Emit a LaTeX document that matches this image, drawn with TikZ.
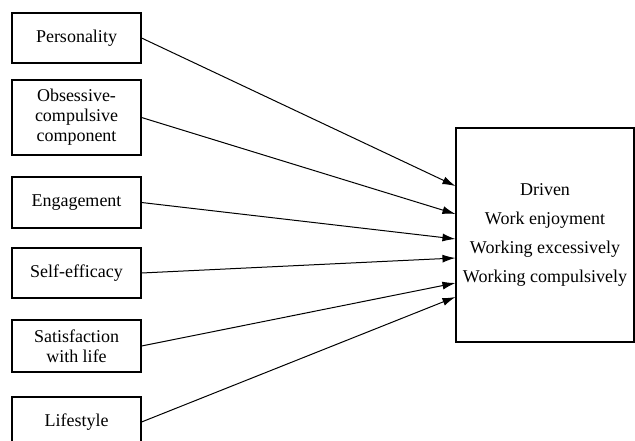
\documentclass[tikz,border=0pt]{standalone}
\usepackage{fontspec}
\setmainfont{Liberation Serif}
\usetikzlibrary{arrows.meta}

\begin{document}
\begin{tikzpicture}[x=1pt,y=-1pt,
    factor/.style={draw,line width=1.1pt,minimum width=129pt,inner sep=0pt,
        align=center,font=\fontsize{18}{20}\selectfont},
    outcome/.style={draw,line width=1.1pt,minimum width=178pt,minimum height=214pt,
        inner sep=0pt,align=center,font=\fontsize{18}{29}\selectfont},
    link/.style={line width=1pt,-{Latex[length=13pt,width=8pt]}}]
    \clip (0,0) rectangle (635,441);

    \node[factor,minimum height=50pt] (f_1) at (76.5,38) {Personality};
    \node[factor,minimum height=75pt] (f_2) at (76.5,117.5) {Obsessive-\\compulsive\\component};
    \node[factor,minimum height=51pt] (f_3) at (76.5,202.5) {Engagement};
    \node[factor,minimum height=50pt] (f_4) at (76.5,273) {Self-efficacy};
    \node[factor,minimum height=52pt] (f_5) at (76.5,346) {Satisfaction\\with life};
    \node[factor,minimum height=50pt] (f_6) at (76.5,422) {Lifestyle};

    \node[outcome] (w) at (545,235) {Driven\\Work enjoyment\\Working excessively\\Working compulsively};

    \draw[link] (f_1.east) -- ([yshift=49pt]w.west);
    \draw[link] (f_2.east) -- ([yshift=21pt]w.west);
    \draw[link] (f_3.east) -- ([yshift=-4pt]w.west);
    \draw[link] (f_4.east) -- ([yshift=-23pt]w.west);
    \draw[link] (f_5.east) -- ([yshift=-48pt]w.west);
    \draw[link] (f_6.east) -- ([yshift=-62pt]w.west);
\end{tikzpicture}
\end{document}
